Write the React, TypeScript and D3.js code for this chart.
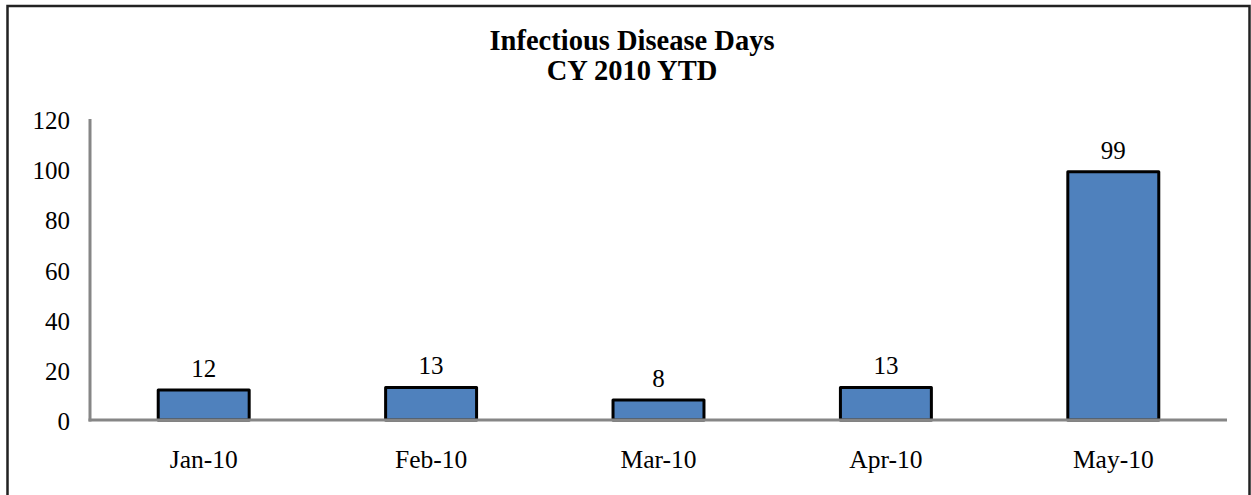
import React from "react";
import * as d3 from "d3";

const categories = ["Jan-10", "Feb-10", "Mar-10", "Apr-10", "May-10"];
const values = [12, 13, 8, 13, 99];
const yTicks = [0, 20, 40, 60, 80, 100, 120];
const titleLines = ["Infectious Disease Days", "CY 2010 YTD"];

const W = 1251;
const H = 495;
const FONT = "Liberation Serif, DejaVu Serif, serif";

export default function App() {
  const left = 90;
  const right = 1227;
  const top = 119;
  const bottom = 420;

  const x = d3.scaleBand<string>().domain(categories).range([left, right]).paddingInner(0.6).paddingOuter(0.3);
  const y = d3.scaleLinear().domain([0, 120]).range([bottom, top]);
  const ts = { fontFamily: FONT };

  return (
    <svg width={W} height={H} style={{ position: "absolute", left: 0, top: 0, background: "#fff", fontFamily: FONT }}>
      <rect x={0} y={0} width={W} height={H} fill="#fff" />
      <path d={`M7.5,${H + 5} V6 H1249.5 V${H + 5}`} fill="none" stroke="#222" strokeWidth={2.5} />
      <text x={632} y={50} textAnchor="middle" style={ts} fontWeight="bold" fontSize={28.5} fill="#000">
        {titleLines[0]}
      </text>
      <text x={632} y={80} textAnchor="middle" style={ts} fontWeight="bold" fontSize={28.5} fill="#000">
        {titleLines[1]}
      </text>
      {yTicks.map((t) => (
        <text key={t} x={70} y={y(t) + 10} textAnchor="end" style={ts} fontSize={25} fill="#000">
          {t}
        </text>
      ))}
      {categories.map((c, i) => (
        <g key={c}>
          <rect
            x={x(c)!}
            y={y(values[i])}
            width={x.bandwidth()}
            height={bottom - y(values[i])}
            fill="#4F81BD"
            stroke="#000"
            strokeWidth={3}
            strokeLinejoin="round"
          />
          <text x={x(c)! + x.bandwidth() / 2} y={y(values[i]) - 13} textAnchor="middle" style={ts} fontSize={25} fill="#000">
            {values[i]}
          </text>
          <text x={x(c)! + x.bandwidth() / 2} y={468} textAnchor="middle" style={ts} fontSize={25.5} fill="#000">
            {c}
          </text>
        </g>
      ))}
      <line x1={left} x2={left} y1={top} y2={bottom + 1.5} stroke="#868686" strokeWidth={3} />
      <line x1={left - 1.5} x2={right} y1={bottom} y2={bottom} stroke="#868686" strokeWidth={3} />
    </svg>
  );
}
